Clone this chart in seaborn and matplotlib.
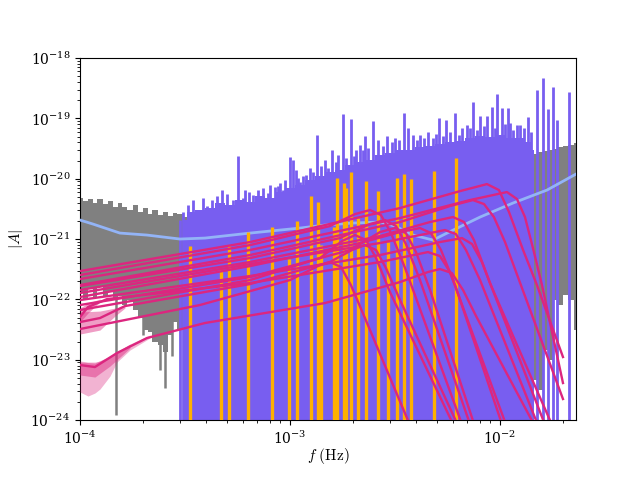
import numpy as np
import pandas as pd
import seaborn as sns
import matplotlib
matplotlib.use("Agg")
import matplotlib.pyplot as plt

plt.rcParams['mathtext.fontset'] = 'cm'
plt.rcParams['font.family'] = ['DejaVu Serif']

purple = '#785EF0'
pink = '#DC267F'
gold = '#FFB000'
sens_col = '#93B4F7'

##############################
### data (log10 of f in Hz and of |A|)
##############################

# gray: noisy data, low-frequency part
gray_logf = [-4.000, -3.976, -3.952, -3.929, -3.905, -3.881, -3.857, -3.833, -3.810, -3.786,
             -3.762, -3.738, -3.714, -3.690, -3.667, -3.643, -3.619, -3.595, -3.571, -3.548,
             -3.524, -3.500, -3.476, -3.452, -3.429, -3.381, -3.333, -3.286, -3.238, -3.190,
             -3.143, -3.095]
gray_top = [-20.321, -20.370, -20.337, -20.403, -20.337, -20.420, -20.370, -20.470, -20.403, -20.470,
            -20.519, -20.437, -20.553, -20.486, -20.586, -20.519, -20.602, -20.553, -20.619, -20.569,
            -20.586, -20.635, -20.602, -20.652, -20.619, -20.586, -20.619, -20.569, -20.553, -20.602,
            -20.519, -20.553]
gray_bot = [-21.879, -22.011, -21.812, -21.978, -21.796, -21.945, -21.879, -22.011, -21.945, -22.094,
            -22.011, -22.177, -22.310, -22.509, -22.542, -22.707, -22.757, -22.873, -22.591, -22.376,
            -22.509, -22.674, -22.757, -22.840, -22.757, -22.840, -22.840, -22.840, -22.840, -22.840,
            -22.840, -22.840]
gray_dip_logf = [-3.829, -3.700, -3.619, -3.595, -3.562]
gray_dip_logA = [-23.917, -22.591, -23.172, -23.470, -22.940]

# gray: high-frequency part
grayR_logf = [-1.852, -1.829, -1.805, -1.781, -1.757, -1.733, -1.710, -1.686, -1.662, -1.638]
grayR_top = [-19.558, -19.591, -19.558, -19.542, -19.525, -19.508, -19.475, -19.459, -19.442, -19.409]
grayR_bot = [-23.669, -23.337, -23.503, -22.840, -23.006, -22.011, -22.094, -21.928, -22.011, -22.509]

# purple: residual, base envelope and individual peaks
purple_logf = [-3.505, -3.476, -3.429, -3.381, -3.333, -3.286, -3.238, -3.190, -3.143, -3.095,
               -3.048, -3.000, -2.952, -2.905, -2.857, -2.810, -2.762, -2.714, -2.667, -2.619,
               -2.571, -2.524, -2.476, -2.429, -2.381, -2.333, -2.286, -2.238, -2.190, -2.143,
               -2.095, -2.048, -2.000, -1.952, -1.905, -1.857, -1.838]
purple_top = [-20.685, -20.553, -20.519, -20.486, -20.403, -20.437, -20.354, -20.387, -20.287, -20.321,
              -20.221, -20.155, -20.105, -20.022, -19.956, -19.890, -19.856, -19.774, -19.724, -19.691,
              -19.608, -19.575, -19.525, -19.525, -19.475, -19.459, -19.426, -19.392, -19.376, -19.326,
              -19.293, -19.309, -19.276, -19.326, -19.326, -19.392, -19.525]
spike_logf = [-3.524, -3.510, -3.443, -3.371, -3.324, -3.271, -3.248, -3.214, -3.176, -3.129,
              -3.095, -3.071, -3.048, -3.024, -3.000, -2.986, -2.971, -2.952, -2.924, -2.905,
              -2.871, -2.833, -2.800, -2.771, -2.748, -2.710, -2.686, -2.667, -2.643, -2.605,
              -2.581, -2.538, -2.500, -2.457, -2.438, -2.414, -2.381, -2.343, -2.319, -2.290,
              -2.257, -2.214, -2.181, -2.157, -2.129, -2.095, -2.062, -2.038, -2.014, -1.990,
              -1.962, -1.952, -1.919, -1.905, -1.886, -1.867, -1.824, -1.795, -1.771, -1.748,
              -1.729, -1.671]
spike_logA = [-20.685, -20.553, -20.586, -20.354, -20.188, -20.354, -19.624, -20.188, -20.271, -20.155,
              -20.105, -20.138, -20.072, -20.022, -19.641, -19.691, -19.856, -20.055, -19.939, -19.823,
              -19.276, -19.691, -19.525, -19.608, -18.928, -19.011, -19.525, -19.442, -19.293, -19.044,
              -19.359, -19.293, -19.326, -18.912, -19.160, -19.276, -19.276, -19.227, -19.326, -18.995,
              -19.028, -18.912, -19.160, -19.111, -18.729, -18.961, -18.961, -18.812, -18.597, -18.829,
              -18.829, -19.077, -19.111, -19.111, -19.160, -18.978, -18.530, -18.332, -18.845, -18.481,
              -19.028, -18.564]
grass_logf = [-3.486, -3.462, -3.414, -3.395, -3.348, -3.300, -3.224, -3.195, -3.152, -3.105,
              -3.057, -3.033, -2.962, -2.938, -2.890, -2.852, -2.819, -2.781, -2.733, -2.695,
              -2.652, -2.629, -2.557, -2.514, -2.481, -2.395, -2.362, -2.305, -2.271, -2.238,
              -2.195, -2.143, -2.110, -2.076, -2.024, -1.976, -1.938, -1.852]
grass_logA = [-20.437, -20.354, -20.321, -20.453, -20.287, -20.254, -20.321, -20.221, -20.188, -20.238,
              -20.122, -20.188, -19.989, -19.956, -19.890, -19.790, -19.823, -19.724, -19.658, -19.624,
              -19.525, -19.492, -19.459, -19.392, -19.359, -19.359, -19.326, -19.260, -19.293, -19.227,
              -19.276, -19.160, -19.193, -19.127, -19.160, -19.094, -19.193, -19.227]

# gold: galactic binaries (frequency, peak amplitude)
gb_freq = [3.34e-4, 4.69e-4, 5.12e-4, 6.31e-4, 8.20e-4, 9.89e-4, 1.08e-3, 1.26e-3, 1.36e-3, 1.41e-3,
           1.62e-3, 1.67e-3, 1.81e-3, 1.85e-3, 1.95e-3, 2.11e-3, 2.30e-3, 2.62e-3, 2.93e-3, 3.23e-3,
           3.49e-3, 3.77e-3, 4.86e-3, 6.16e-3]
gb_amp = [7.65e-22, 3.31e-22, 7.65e-22, 1.31e-21, 1.58e-21, 4.66e-22, 1.99e-21, 5.16e-21, 4.10e-21, 7.9e-22,
          1.58e-21, 1.03e-20, 8.48e-21, 7.0e-21, 1.29e-20, 2.23e-21, 9.15e-21, 6.24e-21, 8.9e-22, 1.03e-20,
          1.19e-20, 9.87e-21, 1.34e-20, 2.2e-20]

# light blue: sensitivity curve
sens_logf = [-4.000, -3.938, -3.810, -3.681, -3.524, -3.405, -3.190, -2.952, -2.833, -2.700,
             -2.571, -2.500, -2.414, -2.319, -2.252, -2.095, -1.938, -1.776, -1.638]
sens_logA = [-20.685, -20.752, -20.901, -20.934, -21.000, -20.984, -20.901, -20.818, -20.768, -20.735,
             -20.718, -20.785, -20.934, -21.017, -20.901, -20.636, -20.403, -20.188, -19.923]

# pink: black hole binary waveforms
mbhb_logf = [
    [-4.000, -3.190, -2.476, -2.190, -2.062, -2.005, -1.957, -1.890, -1.824, -1.700],
    [-4.000, -3.190, -2.476, -2.143, -1.967, -1.919, -1.881, -1.843, -1.800, -1.700],
    [-4.000, -3.190, -2.476, -2.238, -2.129, -2.076, -2.029, -1.976, -1.700],
    [-4.000, -3.190, -2.571, -2.333, -2.224, -2.171, -2.124, -2.048, -1.752],
    [-4.000, -3.190, -2.571, -2.286, -2.181, -2.133, -2.086, -1.776],
    [-4.000, -3.190, -2.571, -2.357, -2.262, -2.210, -2.162, -2.095, -1.810],
    [-4.000, -3.929, -3.824, -3.681, -3.405, -2.833, -2.476, -2.343, -2.286, -2.229, -2.176, -2.114, -1.824],
    [-4.000, -3.962, -3.871, -3.190, -2.571, -2.343, -2.286, -2.238, -1.962],
    [-4.000, -3.190, -2.667, -2.476, -2.381, -2.329, -2.281, -2.214, -1.981],
    [-4.000, -3.190, -2.714, -2.571, -2.500, -2.448, -2.400, -2.333, -2.114],
    [-4.000, -3.190, -2.762, -2.619, -2.548, -2.495, -2.448, -2.381, -2.133],
    [-4.000, -3.190, -2.810, -2.690, -2.619, -2.567, -2.519, -2.452, -2.171],
    [-4.000, -3.905, -3.786, -3.190, -2.810, -2.705, -2.643, -2.590, -2.543, -2.476, -2.190],
    [-4.000, -3.190, -2.857, -2.752, -2.690, -2.638, -2.590, -2.524, -2.210],
    [-4.000, -3.429, -3.000, -2.867, -2.810, -2.757, -2.710, -2.643, -2.419],
]
mbhb_logA = [
    [-21.531, -21.050, -20.486, -20.205, -20.089, -20.188, -20.553, -21.182, -21.763, -22.956],
    [-21.663, -21.182, -20.652, -20.354, -20.221, -20.337, -20.635, -21.149, -21.763, -23.387],
    [-21.763, -21.265, -20.718, -20.453, -20.354, -20.420, -20.635, -21.050, -23.652],
    [-21.845, -21.381, -20.950, -20.718, -20.635, -20.718, -21.017, -21.729, -24.083],
    [-22.011, -21.613, -21.265, -21.050, -20.984, -21.083, -21.381, -24.166],
    [-21.895, -21.415, -21.066, -20.917, -20.851, -20.917, -21.182, -21.680, -24.166],
    [-23.089, -23.122, -22.890, -22.641, -22.392, -22.061, -21.713, -21.547, -21.497, -21.564, -21.845, -22.276, -24.166],
    [-22.293, -22.127, -21.995, -21.729, -21.381, -21.216, -21.282, -21.547, -24.166],
    [-21.961, -21.448, -21.066, -20.884, -20.818, -20.901, -21.182, -21.763, -24.166],
    [-22.094, -21.630, -21.182, -20.884, -20.818, -20.901, -21.216, -21.845, -24.166],
    [-21.779, -21.315, -20.984, -20.751, -20.685, -20.785, -21.083, -21.680, -24.166],
    [-21.597, -21.100, -20.785, -20.586, -20.519, -20.602, -20.901, -21.481, -24.166],
    [-22.376, -22.310, -22.111, -21.746, -21.381, -21.182, -21.100, -21.182, -21.481, -22.011, -24.166],
    [-22.177, -21.680, -21.315, -21.033, -20.934, -21.017, -21.315, -21.879, -24.166],
    [-22.492, -22.094, -21.680, -21.448, -21.381, -21.464, -21.763, -22.310, -24.166],
]

# pink credible bands at low frequency
band1_logf = [-4.000, -3.962, -3.929, -3.905, -3.857, -3.824, -3.762, -3.667]
band1_hi = [-23.022, -23.039, -23.039, -23.022, -22.956, -22.873, -22.741, -22.591]
band1_lo = [-23.536, -23.603, -23.553, -23.487, -23.271, -23.039, -22.840, -22.641]
band1in_logf = [-4.000, -3.929, -3.857, -3.762]
band1in_hi = [-23.039, -23.056, -22.940, -22.741]
band1in_lo = [-23.254, -23.288, -23.105, -22.807]
band2_logf = [-4.000, -3.905, -3.833, -3.786]
band2_hi = [-22.210, -22.194, -22.144, -22.111]
band2_lo = [-22.575, -22.509, -22.276, -22.144]
band3_logf = [-4.000, -3.962, -3.905]
band3_hi = [-22.144, -22.061, -21.995]
band3_lo = [-22.376, -22.227, -22.044]

p = lambda v: 10 ** np.asarray(v)
floor = 1e-26

##############################
### plot
##############################
fig = plt.figure(figsize=(6.4, 4.8), dpi=100)
ax = fig.add_axes([0.125, 0.125, 0.775, 0.754])
ax.set_xscale('log')
ax.set_yscale('log')

# gray data
ax.fill_between(p(gray_logf), p(gray_bot), p(gray_top), step='mid', color='gray', lw=0, zorder=1)
ax.vlines(p(gray_dip_logf), p(gray_dip_logA), 1e-22, color='gray', lw=1.8, zorder=1)
ax.fill_between(p(grayR_logf), p(grayR_bot), p(grayR_top), step='mid', color='gray', lw=0, zorder=1)

# purple residual
ax.fill_between(p(purple_logf), floor, p(purple_top), step='mid', color=purple, lw=0, zorder=2)
ax.vlines(p(grass_logf), floor, p(grass_logA), color=purple, lw=2.0, zorder=2)
ax.vlines(p(spike_logf), floor, p(spike_logA), color=purple, lw=2.0, zorder=2)

# sensitivity
sns.lineplot(x=p(sens_logf), y=p(sens_logA), color=sens_col, lw=2.0, ax=ax, zorder=3,
             estimator=None, sort=False)

# galactic binaries
ax.vlines(gb_freq, floor, gb_amp, color=gold, lw=2.4, zorder=4)

# black hole binaries
ax.fill_between(p(band1_logf), p(band1_lo), p(band1_hi), color=pink, alpha=0.35, lw=0, zorder=5)
ax.fill_between(p(band1in_logf), p(band1in_lo), p(band1in_hi), color=pink, alpha=0.45, lw=0, zorder=5)
ax.fill_between(p(band2_logf), p(band2_lo), p(band2_hi), color=pink, alpha=0.45, lw=0, zorder=5)
ax.fill_between(p(band3_logf), p(band3_lo), p(band3_hi), color=pink, alpha=0.45, lw=0, zorder=5)

rows = []
for i, (lf, la) in enumerate(zip(mbhb_logf, mbhb_logA)):
    for a, b in zip(lf, la):
        rows.append((i, 10 ** a, 10 ** b))
df = pd.DataFrame(rows, columns=['src', 'f', 'A'])
sns.lineplot(data=df, x='f', y='A', units='src', estimator=None, sort=False, color=pink,
             lw=1.7, ax=ax, legend=False, zorder=6)

ax.set_xlim(1e-4, 10 ** -1.638)
ax.set_ylim(1e-24, 1e-18)
ax.set_xlabel(r'$f\ \mathrm{(Hz)}$', fontsize=11, labelpad=-1)
ax.set_ylabel(r'$|A|$', fontsize=11)

plt.savefig('out.png', dpi=100)
plt.close()
